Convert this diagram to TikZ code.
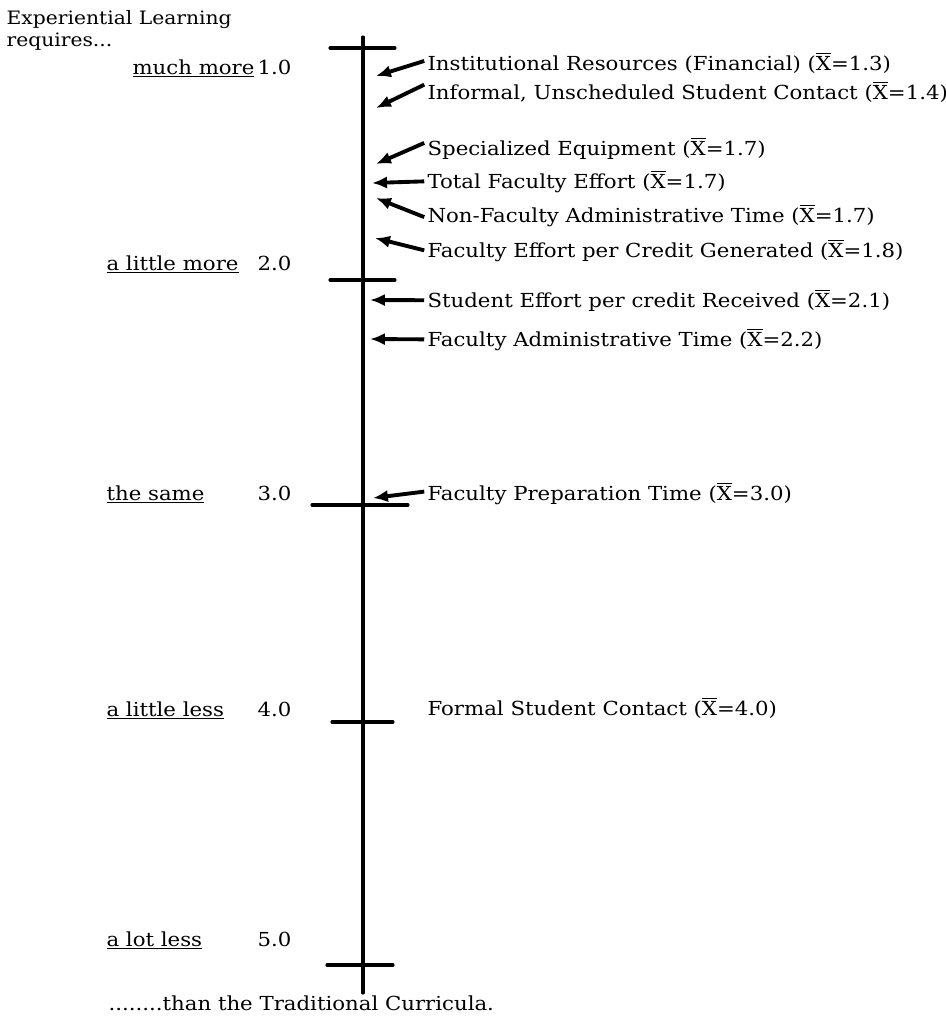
\documentclass[tikz,border=0pt]{standalone}
\usepackage{fontspec}
\setmainfont[FakeStretch=1.1]{DejaVu Serif}
\usetikzlibrary{arrows.meta}
\tikzstyle{every node}=[font=\fontsize{11}{13}\selectfont,inner sep=0pt]
\tikzstyle{every path}=[line width=1.8pt,line cap=round,line join=round]
\tikzstyle{lvl}=[anchor=base west]
\tikzstyle{num}=[anchor=base east]
\tikzstyle{item}=[anchor=base west]
\tikzstyle{pointer}=[-{Latex[length=8.5pt,width=7pt]},line width=2.2pt,line cap=butt]
\newcommand\Xm{$\overline{\mbox{X}}$}

\begin{document}
\begin{tikzpicture}[x=0.02cm,y=-0.02cm]
%Rating scale
	\useasboundingbox (0,0) rectangle (946,1019);
	\newcommand\axisx{363} %x of the scale line
	\newcommand\txtx{426} %where the item texts start
	\newcommand\numx{293} %right edge of the scale numbers
	\coordinate (Atop) at (\axisx,37); %% top end of the scale
	\coordinate (Abot) at (\axisx,993); %% bottom end of the scale
	\draw (Atop) -- (Abot);
	%TICKS
	\foreach \y/\l/\r in {48/330/395, 280/330/395, 505/312/408, 722/332/393, 965/327/393}
		\draw (\l,\y) -- (\r,\y);
	%left side labels
	\node[lvl,font=\fontsize{10.5}{12}\selectfont] (head1) at (5,24) {Experiential Learning};
	\node[lvl,font=\fontsize{10.5}{12}\selectfont] (head2) at (5,46) {requires...};
	\node[lvl] (L1) at (131,74) {\underline{much more}};
	\node[num] (N1) at (\numx,74) {1.0};
	\node[lvl] (L2) at (105,270) {\underline{a little more}};
	\node[num] (N2) at (\numx,270) {2.0};
	\node[lvl] (L3) at (105,500) {\underline{the same}};
	\node[num] (N3) at (\numx,500) {3.0};
	\node[lvl] (L4) at (105,716) {\underline{a little less}};
	\node[num] (N4) at (\numx,716) {4.0};
	\node[lvl] (L5) at (105,946) {\underline{a lot less}};
	\node[num] (N5) at (\numx,946) {5.0};
	\node[lvl] (foot) at (107,1010) {........than the Traditional Curricula.};
	%items on the right
	\node[item] (I1) at (\txtx,70) {Institutional Resources (Financial) (\Xm=1.3)};
	\node[item] (I2) at (\txtx,99) {Informal, Unscheduled Student Contact (\Xm=1.4)};
	\node[item] (I3) at (\txtx,155) {Specialized Equipment (\Xm=1.7)};
	\node[item] (I4) at (\txtx,188) {Total Faculty Effort (\Xm=1.7)};
	\node[item] (I5) at (\txtx,222) {Non-Faculty Administrative Time (\Xm=1.7)};
	\node[item] (I6) at (\txtx,257) {Faculty Effort per Credit Generated (\Xm=1.8)};
	\node[item] (I7) at (\txtx,307) {Student Effort per credit Received (\Xm=2.1)};
	\node[item] (I8) at (\txtx,346) {Faculty Administrative Time (\Xm=2.2)};
	\node[item] (I9) at (\txtx,500) {Faculty Preparation Time (\Xm=3.0)};
	\node[item] (I10) at (\txtx,715) {Formal Student Contact (\Xm=4.0)};
	%arrow tips next to the scale
	\coordinate (P1) at (376,76);
	\coordinate (P2) at (376,108);
	\coordinate (P3) at (376,164);
	\coordinate (P4) at (372,183);
	\coordinate (P5) at (376,198);
	\coordinate (P6) at (375,238);
	\coordinate (P7) at (370,300);
	\coordinate (P8) at (370,339);
	\coordinate (P9) at (373,498);
	\foreach \i/\s in {1/1pt,2/4pt,3/3pt,4/0pt,5/-1pt,6/0pt,7/0pt,8/0pt,9/1pt}
		\draw[pointer] ([xshift=-1pt,yshift=\s]I\i.west) -- (P\i);
\end{tikzpicture}
\end{document}
